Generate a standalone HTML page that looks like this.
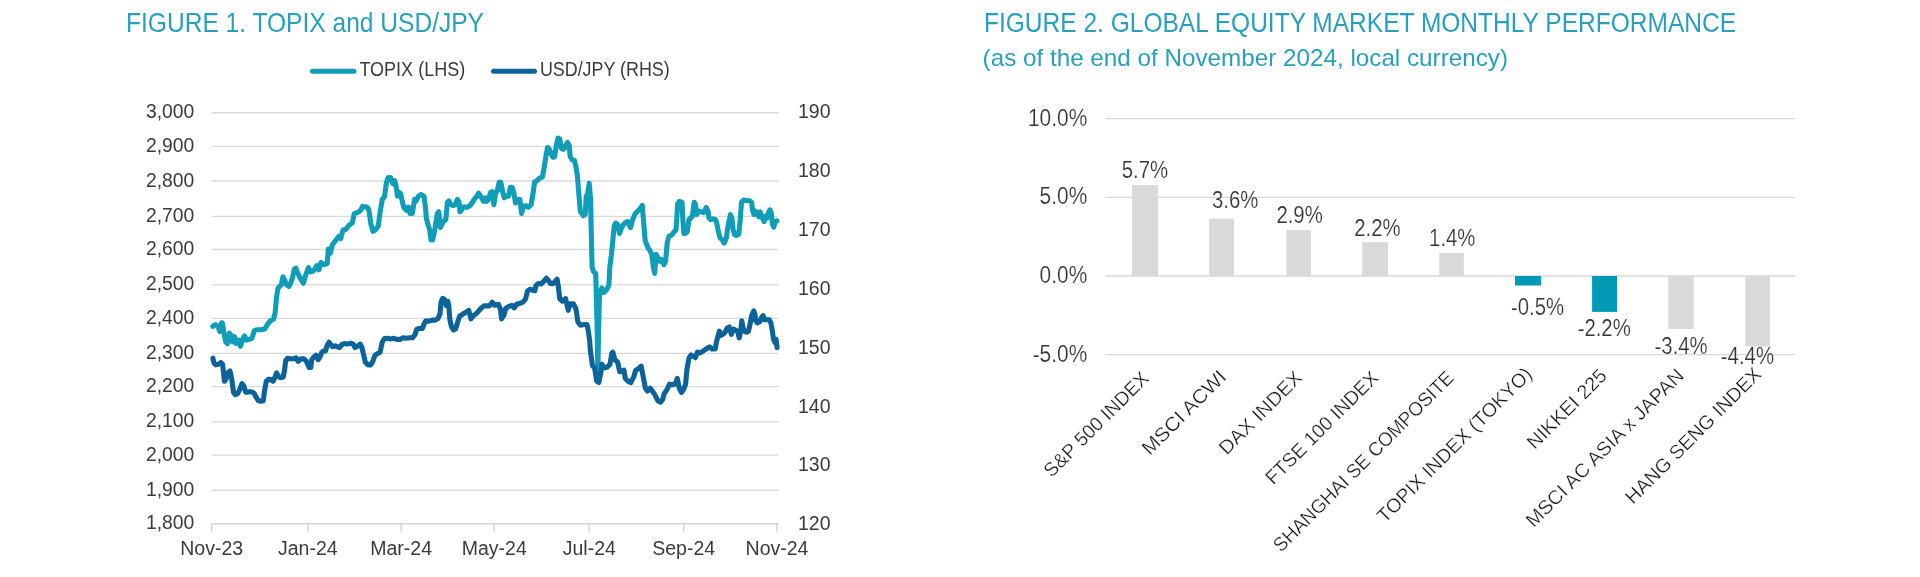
<!DOCTYPE html>
<html><head><meta charset="utf-8"><style>
html,body{margin:0;padding:0;background:#fff;width:1920px;height:577px;overflow:hidden}
svg{display:block;font-family:"Liberation Sans",sans-serif;filter:blur(0.5px)}
</style></head><body>
<svg width="1920" height="577" viewBox="0 0 1920 577">
<text x="126" y="31.7" font-size="27.2" fill="#2a9fbd" textLength="358" lengthAdjust="spacingAndGlyphs">FIGURE 1. TOPIX and USD/JPY</text>
<text x="984" y="31.7" font-size="27.2" fill="#2a9fbd" textLength="752" lengthAdjust="spacingAndGlyphs">FIGURE 2. GLOBAL EQUITY MARKET MONTHLY PERFORMANCE</text>
<text x="982.6" y="66.2" font-size="24" fill="#2a9fbd" textLength="525.4" lengthAdjust="spacingAndGlyphs">(as of the end of November 2024, local currency)</text>
<line x1="312.5" y1="71.2" x2="354" y2="71.2" stroke="#0f9db8" stroke-width="5" stroke-linecap="round"/>
<text x="359.4" y="76.4" font-size="19.5" fill="#3b3b3b" textLength="105.8" lengthAdjust="spacingAndGlyphs">TOPIX (LHS)</text>
<line x1="493.5" y1="71.2" x2="534.5" y2="71.2" stroke="#0b6399" stroke-width="5" stroke-linecap="round"/>
<text x="539.9" y="76.4" font-size="19.5" fill="#3b3b3b" textLength="129.8" lengthAdjust="spacingAndGlyphs">USD/JPY (RHS)</text>
<line x1="211.5" y1="112.75" x2="778.5" y2="112.75" stroke="#d9d9d9" stroke-width="1.3"/>
<line x1="211.5" y1="146.40" x2="778.5" y2="146.40" stroke="#d9d9d9" stroke-width="1.3"/>
<line x1="211.5" y1="181.00" x2="778.5" y2="181.00" stroke="#d9d9d9" stroke-width="1.3"/>
<line x1="211.5" y1="216.40" x2="778.5" y2="216.40" stroke="#d9d9d9" stroke-width="1.3"/>
<line x1="211.5" y1="249.50" x2="778.5" y2="249.50" stroke="#d9d9d9" stroke-width="1.3"/>
<line x1="211.5" y1="284.80" x2="778.5" y2="284.80" stroke="#d9d9d9" stroke-width="1.3"/>
<line x1="211.5" y1="318.30" x2="778.5" y2="318.30" stroke="#d9d9d9" stroke-width="1.3"/>
<line x1="211.5" y1="353.30" x2="778.5" y2="353.30" stroke="#d9d9d9" stroke-width="1.3"/>
<line x1="211.5" y1="386.70" x2="778.5" y2="386.70" stroke="#d9d9d9" stroke-width="1.3"/>
<line x1="211.5" y1="421.80" x2="778.5" y2="421.80" stroke="#d9d9d9" stroke-width="1.3"/>
<line x1="211.5" y1="455.20" x2="778.5" y2="455.20" stroke="#d9d9d9" stroke-width="1.3"/>
<line x1="211.5" y1="490.25" x2="778.5" y2="490.25" stroke="#d9d9d9" stroke-width="1.3"/>
<line x1="211.5" y1="523.65" x2="778.5" y2="523.65" stroke="#d4d4d4" stroke-width="1.5"/>
<line x1="211.7" y1="523.65" x2="211.7" y2="531.85" stroke="#d9d9d9" stroke-width="1.7"/>
<line x1="307.8" y1="523.65" x2="307.8" y2="531.85" stroke="#d9d9d9" stroke-width="1.7"/>
<line x1="401.1" y1="523.65" x2="401.1" y2="531.85" stroke="#d9d9d9" stroke-width="1.7"/>
<line x1="494.3" y1="523.65" x2="494.3" y2="531.85" stroke="#d9d9d9" stroke-width="1.7"/>
<line x1="589.3" y1="523.65" x2="589.3" y2="531.85" stroke="#d9d9d9" stroke-width="1.7"/>
<line x1="683.7" y1="523.65" x2="683.7" y2="531.85" stroke="#d9d9d9" stroke-width="1.7"/>
<line x1="777.0" y1="523.65" x2="777.0" y2="531.85" stroke="#d9d9d9" stroke-width="1.7"/>
<text transform="translate(194.30,118.35) scale(0.975,1)" font-size="19.8" fill="#3b3b3b" text-anchor="end">3,000</text>
<text transform="translate(194.30,152.00) scale(0.975,1)" font-size="19.8" fill="#3b3b3b" text-anchor="end">2,900</text>
<text transform="translate(194.30,186.60) scale(0.975,1)" font-size="19.8" fill="#3b3b3b" text-anchor="end">2,800</text>
<text transform="translate(194.30,222.00) scale(0.975,1)" font-size="19.8" fill="#3b3b3b" text-anchor="end">2,700</text>
<text transform="translate(194.30,255.10) scale(0.975,1)" font-size="19.8" fill="#3b3b3b" text-anchor="end">2,600</text>
<text transform="translate(194.30,290.40) scale(0.975,1)" font-size="19.8" fill="#3b3b3b" text-anchor="end">2,500</text>
<text transform="translate(194.30,323.90) scale(0.975,1)" font-size="19.8" fill="#3b3b3b" text-anchor="end">2,400</text>
<text transform="translate(194.30,358.90) scale(0.975,1)" font-size="19.8" fill="#3b3b3b" text-anchor="end">2,300</text>
<text transform="translate(194.30,392.30) scale(0.975,1)" font-size="19.8" fill="#3b3b3b" text-anchor="end">2,200</text>
<text transform="translate(194.30,427.40) scale(0.975,1)" font-size="19.8" fill="#3b3b3b" text-anchor="end">2,100</text>
<text transform="translate(194.30,460.80) scale(0.975,1)" font-size="19.8" fill="#3b3b3b" text-anchor="end">2,000</text>
<text transform="translate(194.30,495.85) scale(0.975,1)" font-size="19.8" fill="#3b3b3b" text-anchor="end">1,900</text>
<text transform="translate(194.30,529.25) scale(0.975,1)" font-size="19.8" fill="#3b3b3b" text-anchor="end">1,800</text>
<text transform="translate(798.00,117.80)" font-size="19.5" fill="#3b3b3b">190</text>
<text transform="translate(798.00,176.74)" font-size="19.5" fill="#3b3b3b">180</text>
<text transform="translate(798.00,235.69)" font-size="19.5" fill="#3b3b3b">170</text>
<text transform="translate(798.00,294.63)" font-size="19.5" fill="#3b3b3b">160</text>
<text transform="translate(798.00,353.57)" font-size="19.5" fill="#3b3b3b">150</text>
<text transform="translate(798.00,412.51)" font-size="19.5" fill="#3b3b3b">140</text>
<text transform="translate(798.00,471.46)" font-size="19.5" fill="#3b3b3b">130</text>
<text transform="translate(798.00,530.40)" font-size="19.5" fill="#3b3b3b">120</text>
<text transform="translate(211.70,555.00)" font-size="19.5" fill="#3b3b3b" text-anchor="middle">Nov-23</text>
<text transform="translate(307.80,555.00)" font-size="19.5" fill="#3b3b3b" text-anchor="middle">Jan-24</text>
<text transform="translate(401.10,555.00)" font-size="19.5" fill="#3b3b3b" text-anchor="middle">Mar-24</text>
<text transform="translate(494.30,555.00)" font-size="19.5" fill="#3b3b3b" text-anchor="middle">May-24</text>
<text transform="translate(589.30,555.00)" font-size="19.5" fill="#3b3b3b" text-anchor="middle">Jul-24</text>
<text transform="translate(683.70,555.00)" font-size="19.5" fill="#3b3b3b" text-anchor="middle">Sep-24</text>
<text transform="translate(777.00,555.00)" font-size="19.5" fill="#3b3b3b" text-anchor="middle">Nov-24</text>
<line x1="1105.5" y1="118.55" x2="1795.6" y2="118.55" stroke="#d9d9d9" stroke-width="1.3"/>
<line x1="1105.5" y1="197.30" x2="1795.6" y2="197.30" stroke="#d9d9d9" stroke-width="1.3"/>
<line x1="1105.5" y1="276.00" x2="1795.6" y2="276.00" stroke="#d9d9d9" stroke-width="1.3"/>
<line x1="1105.5" y1="354.65" x2="1795.6" y2="354.65" stroke="#d9d9d9" stroke-width="1.3"/>
<text transform="translate(1087.20,125.55) scale(0.900,1)" font-size="23.2" fill="#333333" text-anchor="end" stroke="#fff" stroke-width="0.2">10.0%</text>
<text transform="translate(1087.20,204.30) scale(0.900,1)" font-size="23.2" fill="#333333" text-anchor="end" stroke="#fff" stroke-width="0.2">5.0%</text>
<text transform="translate(1087.20,283.00) scale(0.900,1)" font-size="23.2" fill="#333333" text-anchor="end" stroke="#fff" stroke-width="0.2">0.0%</text>
<text transform="translate(1087.20,361.65) scale(0.900,1)" font-size="23.2" fill="#333333" text-anchor="end" stroke="#fff" stroke-width="0.2">-5.0%</text>
<rect x="1132.0" y="185.0" width="26.0" height="91.0" fill="#d9d9d9"/>
<rect x="1209.1" y="218.7" width="24.9" height="57.3" fill="#d9d9d9"/>
<rect x="1286.4" y="230.1" width="24.6" height="45.9" fill="#d9d9d9"/>
<rect x="1362.2" y="242.2" width="25.7" height="33.8" fill="#d9d9d9"/>
<rect x="1439.3" y="253.1" width="24.5" height="22.9" fill="#d9d9d9"/>
<rect x="1515.0" y="276.0" width="26.1" height="9.5" fill="#009ab4"/>
<rect x="1592.1" y="276.0" width="24.9" height="35.9" fill="#009ab4"/>
<rect x="1668.2" y="276.0" width="25.5" height="52.9" fill="#d9d9d9"/>
<rect x="1745.3" y="276.0" width="24.6" height="70.5" fill="#d9d9d9"/>
<text transform="translate(1144.85,178.00) scale(0.877,1)" font-size="23.2" fill="#333333" text-anchor="middle" stroke="#fff" stroke-width="0.2">5.7%</text>
<text transform="translate(1235.20,208.30) scale(0.877,1)" font-size="23.2" fill="#333333" text-anchor="middle" stroke="#fff" stroke-width="0.2">3.6%</text>
<text transform="translate(1299.55,223.10) scale(0.877,1)" font-size="23.2" fill="#333333" text-anchor="middle" stroke="#fff" stroke-width="0.2">2.9%</text>
<text transform="translate(1377.35,236.30) scale(0.877,1)" font-size="23.2" fill="#333333" text-anchor="middle" stroke="#fff" stroke-width="0.2">2.2%</text>
<text transform="translate(1452.25,246.40) scale(0.877,1)" font-size="23.2" fill="#333333" text-anchor="middle" stroke="#fff" stroke-width="0.2">1.4%</text>
<text transform="translate(1537.50,315.10) scale(0.877,1)" font-size="23.2" fill="#333333" text-anchor="middle" stroke="#fff" stroke-width="0.2">-0.5%</text>
<text transform="translate(1604.20,335.70) scale(0.877,1)" font-size="23.2" fill="#333333" text-anchor="middle" stroke="#fff" stroke-width="0.2">-2.2%</text>
<text transform="translate(1681.10,354.20) scale(0.877,1)" font-size="23.2" fill="#333333" text-anchor="middle" stroke="#fff" stroke-width="0.2">-3.4%</text>
<text transform="translate(1747.40,364.30) scale(0.877,1)" font-size="23.2" fill="#333333" text-anchor="middle" stroke="#fff" stroke-width="0.2">-4.4%</text>
<text x="1150.05" y="379.75" font-size="19.6" fill="#151515" text-anchor="end" textLength="139.2" lengthAdjust="spacingAndGlyphs" transform="rotate(-45 1150.05 379.75)" stroke="#fff" stroke-width="0.3">S&amp;P 500 INDEX</text>
<text x="1227.60" y="378.20" font-size="19.6" fill="#151515" text-anchor="end" textLength="110.1" lengthAdjust="spacingAndGlyphs" transform="rotate(-45 1227.60 378.20)" stroke="#fff" stroke-width="0.3">MSCI ACWI</text>
<text x="1303.45" y="379.05" font-size="19.6" fill="#151515" text-anchor="end" textLength="108.6" lengthAdjust="spacingAndGlyphs" transform="rotate(-45 1303.45 379.05)" stroke="#fff" stroke-width="0.3">DAX INDEX</text>
<text x="1379.75" y="379.05" font-size="19.6" fill="#151515" text-anchor="end" textLength="150.6" lengthAdjust="spacingAndGlyphs" transform="rotate(-45 1379.75 379.05)" stroke="#fff" stroke-width="0.3">FTSE 100 INDEX</text>
<text x="1454.95" y="379.05" font-size="19.6" fill="#151515" text-anchor="end" textLength="245.9" lengthAdjust="spacingAndGlyphs" transform="rotate(-45 1454.95 379.05)" stroke="#fff" stroke-width="0.3">SHANGHAI SE COMPOSITE</text>
<text x="1533.30" y="375.50" font-size="19.6" fill="#151515" text-anchor="end" textLength="209.7" lengthAdjust="spacingAndGlyphs" transform="rotate(-45 1533.30 375.50)" stroke="#fff" stroke-width="0.3">TOPIX INDEX (TOKYO)</text>
<text x="1608.05" y="376.95" font-size="19.6" fill="#151515" text-anchor="end" textLength="103.6" lengthAdjust="spacingAndGlyphs" transform="rotate(-45 1608.05 376.95)" stroke="#fff" stroke-width="0.3">NIKKEI 225</text>
<text x="1685.10" y="376.90" font-size="19.6" fill="#151515" text-anchor="end" textLength="214.0" lengthAdjust="spacingAndGlyphs" transform="rotate(-45 1685.10 376.90)" stroke="#fff" stroke-width="0.3">MSCI AC ASIA x JAPAN</text>
<text x="1762.65" y="375.35" font-size="19.6" fill="#151515" text-anchor="end" textLength="183.5" lengthAdjust="spacingAndGlyphs" transform="rotate(-45 1762.65 375.35)" stroke="#fff" stroke-width="0.3">HANG SENG INDEX</text>
<polyline points="212.8,326.3 215.4,324.5 218.0,326.3 219.7,331.5 221.5,322.8 222.3,322.8 224.0,333.2 225.8,341.9 227.5,343.6 229.3,333.2 231.0,335.0 232.7,341.9 234.5,336.7 236.2,343.6 238.8,340.1 240.5,346.2 242.3,341.0 244.5,335.8 246.6,340.1 249.2,339.3 251.8,338.4 254.4,330.6 257.0,329.7 260.5,329.7 264.8,328.9 267.4,324.5 270.0,321.1 273.5,319.3 275.2,312.4 276.4,298.5 277.8,289.0 279.5,286.4 281.3,284.7 283.0,276.9 284.7,280.3 286.5,284.7 289.0,286.4 290.8,282.9 292.5,277.7 294.3,269.1 296.0,268.2 297.1,271.9 300.2,278.1 303.3,283.3 305.4,276.0 308.5,267.7 310.6,271.9 313.7,270.8 316.8,265.6 318.9,269.8 321.0,262.5 324.1,264.6 327.2,263.6 328.3,249.0 330.3,253.2 332.4,244.8 335.5,240.7 338.7,236.5 340.7,238.6 342.8,230.3 345.9,229.3 349.1,225.1 352.2,223.0 354.3,213.7 357.4,212.6 360.5,210.5 362.6,206.4 366.7,207.0 368.8,209.5 370.9,224.1 373.0,231.3 375.0,230.3 378.2,226.1 380.2,211.6 382.3,199.1 384.4,197.0 386.5,182.2 388.1,177.5 390.5,177.5 392.8,183.7 394.4,180.6 395.9,185.3 397.5,196.2 399.0,192.3 400.6,193.9 402.2,200.9 403.7,207.1 406.1,210.2 408.4,207.1 410.0,213.4 412.3,213.4 414.6,199.3 416.2,200.9 418.5,196.2 420.9,194.6 424.0,196.2 425.6,208.7 426.3,218.0 427.9,224.3 429.5,229.0 431.0,239.9 432.6,239.9 434.1,233.6 435.7,224.3 437.3,213.4 438.8,211.8 440.4,227.4 441.9,224.3 443.5,221.2 445.8,219.6 447.4,202.4 449.0,200.9 450.5,204.0 452.9,205.6 455.2,204.8 457.5,199.3 459.1,202.4 459.9,211.8 461.4,210.2 463.0,207.1 465.3,207.1 467.7,207.1 470.0,205.6 472.4,202.4 474.7,198.5 477.0,196.2 478.6,193.1 480.2,195.4 481.7,197.8 483.5,201.3 485.2,197.8 486.9,201.3 488.7,199.5 490.4,192.6 492.1,191.7 493.9,204.7 495.6,192.6 497.3,190.9 499.1,182.2 500.8,182.2 502.5,190.9 504.3,197.8 506.0,196.1 508.6,196.1 510.3,187.4 512.1,187.4 513.8,192.6 515.5,203.0 517.3,199.5 519.9,199.5 521.6,213.4 523.3,206.5 525.9,205.6 528.5,207.3 531.1,204.7 532.9,194.3 534.6,182.2 537.2,180.5 539.8,177.9 542.4,177.0 544.1,168.3 545.9,156.2 547.6,147.5 549.3,149.3 551.1,153.6 552.8,157.1 554.5,157.1 556.3,145.8 558.0,138.0 559.7,138.9 561.5,148.4 563.2,149.3 564.9,147.5 567.5,142.3 569.3,145.8 570.1,156.2 571.9,159.7 574.5,160.5 576.2,168.3 577.4,175.9 578.8,193.6 580.3,211.3 583.3,215.7 585.3,214.2 586.2,196.5 587.7,193.6 589.2,183.3 590.6,199.5 591.2,229.0 592.1,267.3 593.6,271.8 595.7,273.2 596.5,302.7 597.4,340.0 597.8,372.0 598.6,330.0 599.5,293.9 601.9,288.0 603.9,292.4 606.9,289.5 608.9,285.0 609.8,267.3 611.3,255.5 612.8,240.8 614.2,226.0 615.7,223.1 617.8,224.6 619.6,233.4 621.6,227.5 624.6,223.1 627.5,221.6 630.5,227.5 632.5,220.1 634.9,214.2 637.3,211.3 639.3,209.8 642.3,205.4 643.7,223.1 645.2,240.8 648.2,248.2 650.0,250.8 651.7,254.3 653.5,268.1 654.7,273.3 656.1,254.3 657.8,257.7 659.5,261.2 661.3,259.5 663.9,264.7 665.6,261.2 667.3,242.1 669.0,236.1 671.6,235.2 674.2,231.8 676.0,230.0 676.8,217.9 677.7,204.0 679.4,201.4 682.0,202.3 682.9,219.6 683.8,233.5 685.5,233.5 687.2,231.8 689.0,219.6 690.7,217.9 692.4,216.2 694.2,202.3 695.4,204.0 696.8,214.4 698.5,211.0 701.1,211.8 703.7,212.7 706.3,207.5 708.0,211.0 708.9,217.9 710.6,219.6 713.2,218.8 715.5,219.6 716.7,223.1 718.4,231.8 720.1,237.8 722.1,239.6 724.2,243.1 726.2,238.3 728.3,224.4 730.4,214.7 731.8,217.4 733.2,229.9 734.6,234.8 736.6,235.5 738.7,234.1 740.1,221.6 741.5,202.2 743.6,200.1 746.4,200.5 749.8,200.8 751.6,202.2 752.6,210.5 754.0,214.7 755.4,211.2 757.4,213.3 758.8,216.8 760.2,211.9 761.6,217.4 763.0,218.8 764.1,221.6 765.5,216.1 766.9,218.1 768.3,213.3 769.9,209.8 771.3,213.3 772.4,224.4 773.8,227.2 775.2,221.6 776.9,220.9" fill="none" stroke="#0f9db8" stroke-width="5.1" stroke-linejoin="round" stroke-linecap="round"/>
<polyline points="212.9,358.2 214.1,363.1 215.9,364.9 218.3,364.3 220.8,362.5 222.6,364.3 223.8,375.2 224.4,381.3 226.2,378.8 228.1,372.8 229.9,370.9 231.7,378.8 233.5,392.2 235.3,394.6 237.8,393.4 240.2,388.5 242.0,383.7 243.8,386.1 245.7,392.2 247.5,392.2 249.9,391.6 252.3,392.2 254.2,393.4 256.0,397.0 258.4,400.7 260.8,401.3 263.3,400.7 264.5,391.0 266.3,381.3 268.1,379.4 270.5,379.4 273.0,381.3 274.8,377.6 276.6,372.8 278.4,376.4 280.8,377.6 283.3,377.0 284.5,370.3 285.7,360.6 287.5,358.2 290.0,358.8 293.5,358.8 296.1,357.9 298.2,361.4 301.3,358.8 303.9,358.8 306.5,361.4 309.1,367.5 310.8,367.5 311.7,359.7 313.8,357.1 316.0,355.3 318.2,359.7 319.9,357.1 321.6,352.7 323.4,351.0 325.5,351.0 327.3,344.9 329.0,342.3 330.3,344.1 332.5,346.7 335.1,345.8 337.2,346.7 339.4,347.5 342.0,344.5 344.6,343.6 347.2,344.1 350.7,343.2 353.3,344.1 355.0,347.5 357.6,346.2 360.2,344.1 361.9,347.5 363.7,355.3 365.4,362.3 368.0,364.9 370.6,364.9 372.8,361.4 374.9,355.5 377.5,353.5 380.0,352.5 381.2,347.0 382.3,342.0 384.5,338.5 387.5,338.3 390.6,338.9 393.7,338.3 396.8,339.4 400.0,339.4 403.1,337.8 406.2,338.3 409.3,337.8 412.4,337.8 415.0,334.7 416.6,329.5 419.2,328.5 422.3,328.5 424.4,323.3 425.9,320.7 429.1,321.2 432.2,320.1 435.3,320.1 437.9,318.6 440.0,313.9 441.0,302.5 442.6,298.3 444.6,299.4 446.2,305.6 447.8,301.4 448.8,305.6 449.8,319.1 451.4,326.4 453.5,330.0 455.6,329.0 457.6,322.2 459.7,316.0 462.1,314.7 465.2,312.6 468.8,310.5 470.9,318.9 473.5,315.7 477.2,312.6 480.8,308.5 483.9,305.9 487.0,305.9 489.6,305.9 492.2,302.2 494.8,305.3 498.5,304.3 500.5,309.5 501.6,318.9 503.7,315.7 505.7,308.5 508.9,306.4 512.0,305.3 514.1,307.9 516.7,304.3 519.8,303.3 522.9,302.2 525.5,299.1 527.6,290.8 530.2,289.2 532.8,290.3 534.8,290.8 535.9,285.6 538.5,283.5 541.1,284.0 543.7,281.4 546.3,278.3 548.4,280.4 550.4,283.5 553.2,283.6 555.1,281.4 557.1,279.1 558.4,286.9 559.7,298.6 562.3,301.2 565.6,298.6 568.2,310.3 570.1,303.8 573.4,303.8 576.0,309.0 577.9,322.0 580.5,325.2 583.8,324.5 587.0,324.5 588.3,331.0 589.6,340.1 590.4,350.6 592.5,365.8 594.6,367.9 596.7,381.1 598.8,382.5 600.8,372.8 601.9,364.4 604.3,367.9 607.1,367.2 609.9,364.4 611.9,353.3 612.8,352.2 614.9,359.8 617.6,361.9 619.7,371.6 621.8,371.6 623.9,370.2 625.3,378.5 628.0,381.3 630.8,382.7 633.6,377.2 635.7,370.2 638.4,368.8 641.2,366.1 643.3,377.2 645.4,388.3 647.4,391.0 650.2,388.3 652.3,391.0 655.1,395.2 657.8,400.7 660.6,402.1 662.7,399.3 664.1,393.8 666.9,389.6 669.6,384.1 672.4,384.8 675.2,384.1 677.3,378.5 679.3,388.3 681.4,392.4 683.5,389.6 685.6,384.1 687.0,368.8 689.1,357.7 691.1,355.0 693.2,356.4 695.3,357.7 697.4,352.2 700.2,353.0 703.3,350.9 706.4,348.9 709.6,346.8 712.2,348.9 715.3,348.9 716.3,342.6 717.9,336.4 719.4,331.2 721.0,335.3 723.1,334.3 725.1,332.2 727.2,328.1 729.3,327.0 731.4,334.3 733.5,329.1 735.5,330.1 737.6,331.2 739.2,337.9 740.7,331.2 741.8,320.8 742.8,327.0 744.4,331.2 746.5,332.2 748.5,331.2 750.1,323.9 751.7,315.6 753.7,310.9 754.8,313.5 755.8,320.8 757.4,322.9 759.5,321.8 761.5,317.7 763.1,315.6 764.6,319.8 766.7,319.8 769.3,319.8 770.9,322.9 772.4,331.2 773.5,339.5 775.0,342.6 776.1,339.5 777.1,347.8" fill="none" stroke="#0b6399" stroke-width="5.1" stroke-linejoin="round" stroke-linecap="round"/>
</svg>
</body></html>
